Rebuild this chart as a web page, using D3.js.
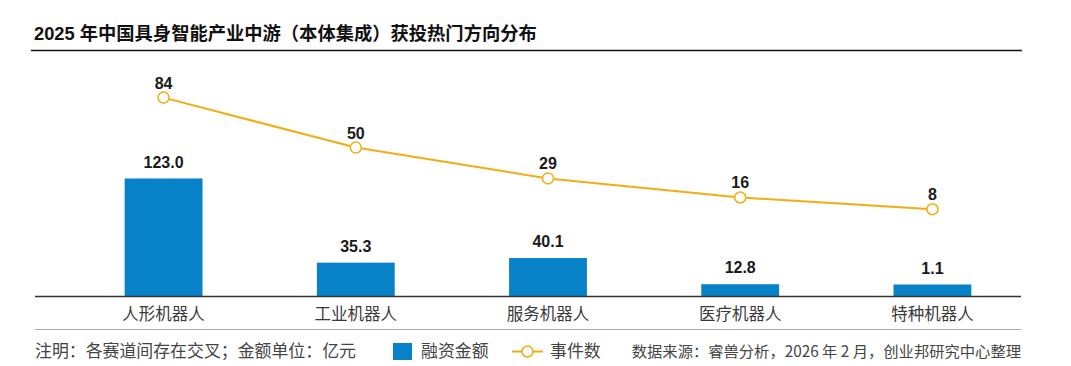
<!DOCTYPE html>
<html><head><meta charset="utf-8">
<script src="https://cdn.jsdelivr.net/npm/d3@7"></script>
<style>
html,body{margin:0;padding:0;background:#fff;}
svg{display:block;}
</style></head>
<body>
<svg id="chart" width="1071" height="366"></svg>
<script>
const categories = ["人形机器人","工业机器人","服务机器人","医疗机器人","特种机器人"];
const amounts = [123.0, 35.3, 40.1, 12.8, 1.1];
const amountLabels = ["123.0","35.3","40.1","12.8","1.1"];
const events = [84, 50, 29, 16, 8];
const titleText = "2025 年中国具身智能产业中游（本体集成）获投热门方向分布";
const noteText = "注明：各赛道间存在交叉；金额单位：亿元";
const sourceText = "数据来源：睿兽分析，2026 年 2 月，创业邦研究中心整理";
const legendLabels = ["融资金额","事件数"];

const W = 1071, H = 366;
const left = 35, right = 1021;
const baseY = 296.5;
const BLUE = "#0782C9", AMBER = "#F1AD12";
const FONT = "'Liberation Sans','Noto Sans CJK SC',sans-serif";
const CJK = "'Noto Sans CJK SC','Liberation Sans',sans-serif";

const svg = d3.select("#chart");

// title
svg.append("text").attr("x", 34).attr("y", 39.5)
  .attr("font-family", FONT).attr("font-weight", "bold").attr("font-size", 18.3)
  .attr("fill", "#111").text(titleText);
svg.append("line").attr("x1", 31).attr("x2", 1022).attr("y1", 50.5).attr("y2", 50.5)
  .attr("stroke", "#111").attr("stroke-width", 1.6);

const x = d3.scaleBand().domain(categories).range([left + 32, right + 8]).paddingInner(0.595).paddingOuter(0.3);
const yBar = d3.scaleLinear().domain([0, 130]).range([baseY, baseY - 124.7]);
const yLine = d3.scaleLinear().domain([0, 100]).range([221, 74.1]);
const minBar = 12;

const g = svg.append("g");

// bars
g.selectAll("rect.bar").data(amounts).join("rect").attr("class", "bar")
  .attr("x", (d, i) => x(categories[i]))
  .attr("width", x.bandwidth())
  .attr("y", d => Math.min(yBar(d), baseY - minBar))
  .attr("height", d => baseY - Math.min(yBar(d), baseY - minBar))
  .attr("fill", BLUE);

g.selectAll("text.barlab").data(amounts).join("text").attr("class", "barlab")
  .attr("x", (d, i) => x(categories[i]) + x.bandwidth() / 2)
  .attr("y", d => Math.min(yBar(d), baseY - minBar) - 11)
  .attr("text-anchor", "middle").attr("font-family", FONT).attr("font-weight", "bold")
  .attr("font-size", 16).attr("fill", "#1a1a1a")
  .text((d, i) => amountLabels[i]);

// axis baseline
svg.append("line").attr("x1", left).attr("x2", right).attr("y1", baseY).attr("y2", baseY)
  .attr("stroke", "#333").attr("stroke-width", 1.5);

// category axis
const xAxis = d3.axisBottom(x).tickSize(0).tickPadding(0);
const ax = svg.append("g").attr("transform", `translate(0,${baseY})`).call(xAxis);
ax.select(".domain").remove();
ax.selectAll("text").attr("font-family", CJK).attr("font-size", 16.5).attr("fill", "#3a3a3a")
  .attr("dy", null).attr("y", 23);

// line
const cx = (i) => x(categories[i]) + x.bandwidth() / 2;
const lineGen = d3.line().x((d, i) => cx(i)).y(d => yLine(d));
g.append("path").datum(events).attr("d", lineGen)
  .attr("fill", "none").attr("stroke", AMBER).attr("stroke-width", 2);
g.selectAll("circle.pt").data(events).join("circle").attr("class", "pt")
  .attr("cx", (d, i) => cx(i)).attr("cy", d => yLine(d)).attr("r", 5.5)
  .attr("fill", "#fff").attr("stroke", AMBER).attr("stroke-width", 1.5);
g.selectAll("text.ptlab").data(events).join("text").attr("class", "ptlab")
  .attr("x", (d, i) => cx(i)).attr("y", d => yLine(d) - 9)
  .attr("text-anchor", "middle").attr("font-family", FONT).attr("font-weight", "bold")
  .attr("font-size", 16).attr("fill", "#1a1a1a").text(d => d);

// separator
svg.append("line").attr("x1", left).attr("x2", right).attr("y1", 329.5).attr("y2", 329.5)
  .attr("stroke", "#aaa").attr("stroke-width", 1);

// footer
const fy = 357;
svg.append("text").attr("x", left).attr("y", fy).attr("font-family", CJK).attr("font-size", 16.9)
  .attr("fill", "#444").text(noteText);
svg.append("rect").attr("x", 393).attr("y", 343).attr("width", 19).attr("height", 17).attr("fill", BLUE);
svg.append("text").attr("x", 421).attr("y", fy).attr("font-family", CJK).attr("font-size", 16.9)
  .attr("fill", "#444").text(legendLabels[0]);
svg.append("line").attr("x1", 512).attr("x2", 543).attr("y1", 351.5).attr("y2", 351.5)
  .attr("stroke", AMBER).attr("stroke-width", 2);
svg.append("circle").attr("cx", 527.5).attr("cy", 351.5).attr("r", 5.5)
  .attr("fill", "#fff").attr("stroke", AMBER).attr("stroke-width", 1.5);
svg.append("text").attr("x", 550).attr("y", fy).attr("font-family", CJK).attr("font-size", 16.9)
  .attr("fill", "#444").text(legendLabels[1]);
svg.append("text").attr("x", right).attr("y", fy).attr("text-anchor", "end")
  .attr("font-family", CJK).attr("font-size", 15.3).attr("fill", "#444").text(sourceText);
</script>
</body></html>
